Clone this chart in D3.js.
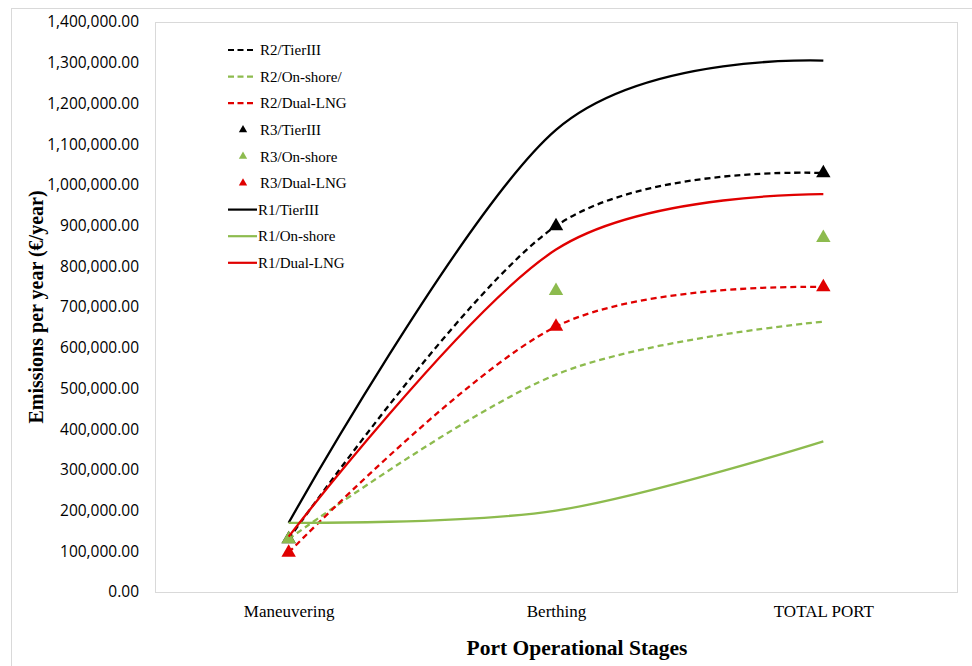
<!DOCTYPE html>
<html>
<head>
<meta charset="utf-8">
<script src="https://cdn.jsdelivr.net/npm/d3@7"></script>
<style>
  body { margin: 0; background: #fff; }
  svg { display: block; }
</style>
</head>
<body>
<div id="chart"></div>
<script>
// Port stages on the x axis
const stages = ["Maneuvering", "Berthing", "TOTAL PORT"];

// Emissions per year (€/year)
const r2TierIII = [130000, 899000, 1029000];
const r2OnShore = [130000, 534000, 664000];
const r2DualLNG = [97000, 652000, 749000];
const r3TierIII = [130000, 899000, 1029000];
const r3OnShore = [130000, 740000, 870000];
const r3DualLNG = [97000, 652000, 749000];
const r1TierIII = [170000, 1135000, 1305000];
const r1OnShore = [170000, 200000, 370000];
const r1DualLNG = [136000, 841000, 977000];

const yMax = 1400000;
const yStep = 100000;

const BLACK = "#000000", GREEN = "#8dbb4e", RED = "#e00000";

// Excel draws series in legend order, R1 lines end up on top
const series = [
    {name: "R2/TierIII", values: r2TierIII, color: BLACK, kind: "dash"},
    {name: "R2/On-shore/", values: r2OnShore, color: GREEN, kind: "dash"},
    {name: "R2/Dual-LNG", values: r2DualLNG, color: RED, kind: "dash"},
    {name: "R3/TierIII", values: r3TierIII, color: BLACK, kind: "marker"},
    {name: "R3/On-shore", values: r3OnShore, color: GREEN, kind: "marker"},
    {name: "R3/Dual-LNG", values: r3DualLNG, color: RED, kind: "marker"},
    {name: "R1/TierIII", values: r1TierIII, color: BLACK, kind: "solid"},
    {name: "R1/On-shore", values: r1OnShore, color: GREEN, kind: "solid"},
    {name: "R1/Dual-LNG", values: r1DualLNG, color: RED, kind: "solid"}
];

const W = 972, H = 666;
const plot = {left: 155, right: 957, top: 22, bottom: 592};

const svg = d3.select("#chart").append("svg")
    .attr("width", W)
    .attr("height", H);

// outer chart frame (only left/top edges fall inside the picture)
svg.append("rect")
    .attr("x", 11.5).attr("y", 8.5)
    .attr("width", 1000).attr("height", 700)
    .attr("fill", "#fff")
    .attr("stroke", "#d9d9d9");

// plot area frame
svg.append("rect")
    .attr("x", plot.left + 0.5).attr("y", plot.top + 0.5)
    .attr("width", plot.right - plot.left).attr("height", plot.bottom - plot.top)
    .attr("fill", "none")
    .attr("stroke", "#d9d9d9");

const x = d3.scalePoint()
    .domain(stages)
    .range([plot.left, plot.right])
    .padding(0.5);

const y = d3.scaleLinear()
    .domain([0, yMax])
    .range([plot.bottom, plot.top]);

// y axis labels only, no line or ticks
const yAxis = svg.append("g")
    .attr("transform", `translate(${plot.left},0)`)
    .call(d3.axisLeft(y)
        .tickValues(d3.range(0, yMax + 1, yStep))
        .tickFormat(d3.format(",.2f"))
        .tickSize(0)
        .tickPadding(16));
yAxis.select(".domain").remove();
yAxis.selectAll("text")
    .style("font-family", "'Open Sans', sans-serif")
    .style("font-size", "15.5px")
    .attr("fill", "#000");

const xAxis = svg.append("g")
    .attr("transform", `translate(0,${plot.bottom})`)
    .call(d3.axisBottom(x).tickSize(0).tickPadding(13));
xAxis.select(".domain").remove();
xAxis.selectAll("text")
    .style("font-family", "'Liberation Serif', 'Times New Roman', serif")
    .style("font-size", "17px")
    .attr("fill", "#000");

// axis titles
svg.append("text")
    .attr("x", 577).attr("y", 655)
    .attr("text-anchor", "middle")
    .style("font-family", "'Liberation Serif', 'Times New Roman', serif")
    .style("font-size", "21.5px")
    .style("font-weight", "bold")
    .text("Port Operational Stages");

svg.append("text")
    .attr("transform", `translate(43,${(plot.top + plot.bottom) / 2}) rotate(-90)`)
    .attr("text-anchor", "middle")
    .style("font-family", "'Liberation Serif', 'Times New Roman', serif")
    .style("font-size", "20px")
    .style("font-weight", "bold")
    .text("Emissions per year (€/year)");

// smoothed lines, close to Excel's "smoothed line" option
const line = d3.line()
    .x((d, i) => x(stages[i]))
    .y(d => y(d))
    .curve(d3.curveCardinal.tension(0));

const tri = d3.symbol().type(d3.symbolTriangle);

const g = svg.append("g");
series.forEach(s => {
    if (s.kind === "marker") {
        g.selectAll(null)
            .data(s.values)
            .enter()
            .append("path")
            .attr("d", tri.size(90)())
            .attr("transform", (d, i) => `translate(${x(stages[i])},${y(d)})`)
            .attr("fill", s.color);
    } else {
        g.append("path")
            .datum(s.values)
            .attr("d", line)
            .attr("fill", "none")
            .attr("stroke", s.color)
            .attr("stroke-width", 2.3)
            .attr("stroke-dasharray", s.kind === "dash" ? "6,4" : null);
    }
});

// legend, inside the plot area at upper left
const legend = svg.append("g");
series.forEach((s, i) => {
    const ly = 50 + i * 26.6;
    const row = legend.append("g").attr("transform", `translate(0,${ly})`);
    if (s.kind === "marker") {
        row.append("path")
            .attr("d", tri.size(30)())
            .attr("transform", "translate(243,0)")
            .attr("fill", s.color);
    } else {
        row.append("line")
            .attr("x1", 228)
            .attr("x2", s.kind === "dash" ? 253 : 257)
            .attr("y1", 0).attr("y2", 0)
            .attr("stroke", s.color)
            .attr("stroke-width", 2.2)
            .attr("stroke-dasharray", s.kind === "dash" ? "6,3.5" : null);
    }
    row.append("text")
        .attr("x", s.kind === "solid" ? 258 : 260)
        .attr("y", 0)
        .attr("dy", "0.35em")
        .style("font-family", "'Liberation Serif', 'Times New Roman', serif")
        .style("font-size", "15px")
        .text(s.name);
});
</script>
</body>
</html>
